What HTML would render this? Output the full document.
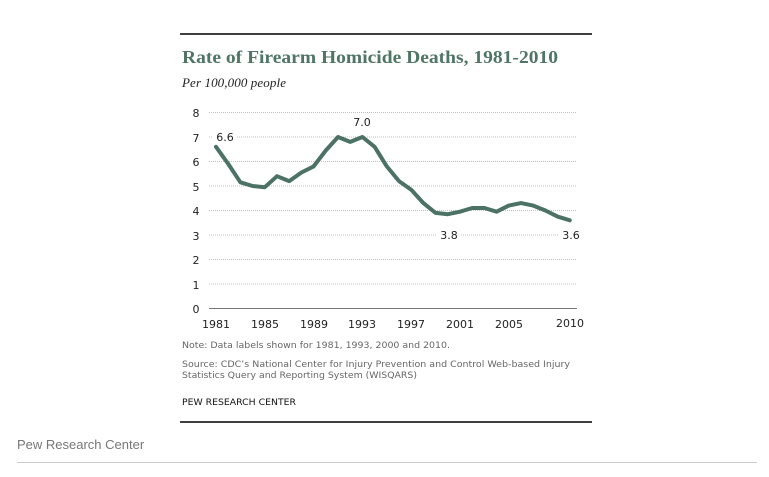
<!DOCTYPE html>
<html><head><meta charset="utf-8"><style>
body{margin:0;background:#fff;width:769px;height:477px;overflow:hidden;position:relative;font-family:"Liberation Sans",sans-serif}
</style></head><body>
<svg width="769" height="477" style="position:absolute;left:0;top:0">
<line x1="180" y1="34" x2="592" y2="34" stroke="#000" stroke-width="1.5"/>
<text x="182" y="63" font-family="Liberation Serif,serif" font-weight="bold" font-size="18" fill="#4f7565" textLength="376" lengthAdjust="spacingAndGlyphs">Rate of Firearm Homicide Deaths, 1981-2010</text>
<text x="182" y="87" font-family="Liberation Serif,serif" font-style="italic" font-size="13" fill="#222" textLength="104">Per 100,000 people</text>
<g stroke="#aaa" stroke-dasharray="1,1" stroke-width="0.8">
<line x1="209" y1="112.5" x2="577" y2="112.5"/>
<line x1="209" y1="137" x2="577" y2="137"/>
<line x1="209" y1="161.5" x2="577" y2="161.5"/>
<line x1="209" y1="186" x2="577" y2="186"/>
<line x1="209" y1="210.5" x2="577" y2="210.5"/>
<line x1="209" y1="235" x2="577" y2="235"/>
<line x1="209" y1="259.5" x2="577" y2="259.5"/>
<line x1="209" y1="284" x2="577" y2="284"/>
</g>
<line x1="209" y1="308.5" x2="577" y2="308.5" stroke="#777"/>
<rect x="213" y="130" width="24" height="13" fill="#fff"/>
<rect x="437" y="228" width="24" height="13" fill="#fff"/>
<rect x="559" y="228" width="24" height="13" fill="#fff"/>
<g font-family="DejaVu Sans,sans-serif" font-size="11" fill="#222" text-anchor="middle">
<text x="196" y="117">8</text><text x="196" y="142">7</text><text x="196" y="166">6</text><text x="196" y="191">5</text>
<text x="196" y="215">4</text><text x="196" y="240">3</text><text x="196" y="264">2</text><text x="196" y="289">1</text><text x="196" y="313">0</text>
<text x="216" y="328">1981</text><text x="265" y="328">1985</text><text x="314" y="328">1989</text><text x="362" y="328">1993</text>
<text x="411" y="328">1997</text><text x="460" y="328">2001</text><text x="509" y="328">2005</text><text x="570" y="327">2010</text>
<text x="225" y="141">6.6</text><text x="362" y="126">7.0</text><text x="449" y="239">3.8</text><text x="571" y="239">3.6</text>
</g>
<polyline fill="none" stroke="#4b7264" stroke-width="4" stroke-linejoin="round" stroke-linecap="round" points="216,146.8 228.2,163.9 240.4,182.3 252.6,186 264.8,187.2 277,176.2 289.2,181.1 301.4,172.5 313.6,166.4 325.8,150.5 338,137 350.2,141.9 362.4,137 374.6,146.8 386.8,166.4 399,181.1 411.2,189.7 423.4,203.1 435.6,212.9 447.8,214.2 460,211.7 472.2,208 484.4,208 496.6,211.7 508.8,205.6 521,203.1 533.2,205.6 545.4,210.5 557.6,216.6 569.8,220.3"/>
<g font-family="DejaVu Sans,sans-serif" font-size="9" fill="#666">
<text x="182" y="348" textLength="268" lengthAdjust="spacingAndGlyphs">Note: Data labels shown for 1981, 1993, 2000 and 2010.</text>
<text x="182" y="367" textLength="388" lengthAdjust="spacingAndGlyphs">Source: CDC’s  National Center for Injury Prevention and Control Web-based Injury</text>
<text x="182" y="378" textLength="235" lengthAdjust="spacingAndGlyphs">Statistics Query and Reporting System (WISQARS)</text>
</g>
<text x="182" y="405" font-family="DejaVu Sans,sans-serif" font-size="9" fill="#111" textLength="114" lengthAdjust="spacingAndGlyphs">PEW RESEARCH  CENTER</text>
<line x1="180" y1="422" x2="592" y2="422" stroke="#000" stroke-width="1.5"/>
<text x="17" y="449" font-size="13" fill="#777">Pew Research Center</text>
<line x1="17" y1="462.5" x2="757" y2="462.5" stroke="#ccc" stroke-width="1"/>
</svg>
</body></html>
